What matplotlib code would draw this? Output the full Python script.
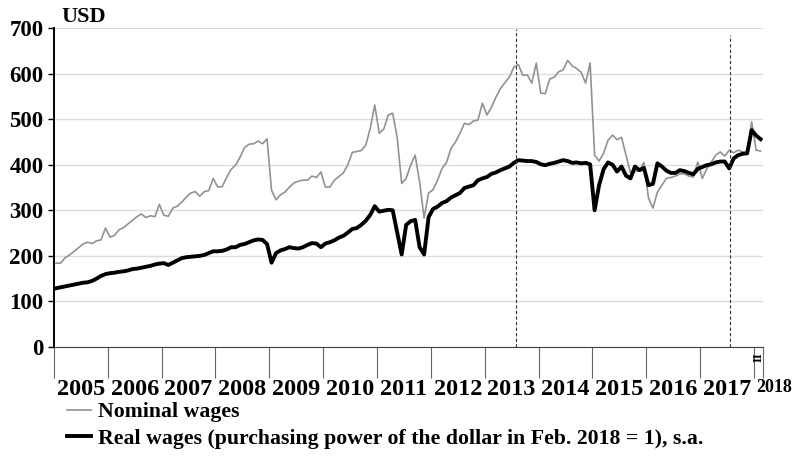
import numpy as np
import matplotlib
matplotlib.use('Agg')
import matplotlib.pyplot as plt
import matplotlib.transforms as mtransforms

# monthly data, Jan 2005 - Feb 2018, USD
nominal_wages = [
    184, 184, 196, 202, 210, 218, 226, 230, 227, 233, 235, 261,   # 2005
    241, 245, 257, 262, 270, 278, 286, 292, 284, 288, 286, 313,   # 2006
    289, 287, 305, 309, 318, 329, 338, 341, 331, 341, 343, 370,   # 2007
    351, 352, 372, 390, 399, 417, 438, 445, 446, 452, 446, 457,   # 2008
    344, 323, 334, 340, 351, 360, 364, 366, 366, 375, 372, 384,   # 2009
    351, 351, 366, 374, 382, 400, 427, 429, 431, 443, 480, 531,   # 2010
    469, 478, 509, 513, 460, 359, 370, 399, 421, 362, 283, 338,   # 2011
    345, 366, 392, 405, 436, 450, 469, 491, 488, 496, 498, 535,   # 2012
    509, 526, 548, 567, 580, 592, 614, 620, 596, 597, 579, 623,   # 2013
    557, 556, 588, 592, 604, 608, 629, 617, 611, 603, 579, 623,   # 2014
    421, 408, 425, 454, 465, 455, 460, 421, 382, 385, 387, 405,   # 2015
    327, 305, 340, 355, 370, 372, 375, 380, 380, 375, 373, 406,   # 2016
    370, 391, 406, 421, 428, 419, 432, 426, 432, 428, 426, 494,   # 2017
    432, 430,                                                     # 2018
]
real_wages = [
    129, 131, 133, 135, 137, 139, 141, 142, 145, 150, 156, 160,   # 2005
    162, 163, 165, 166, 168, 171, 172, 174, 176, 178, 181, 183,   # 2006
    184, 180, 185, 190, 195, 197, 198, 199, 200, 202, 206, 210,   # 2007
    210, 211, 214, 219, 219, 224, 226, 230, 234, 236, 235, 226,   # 2008
    185, 206, 212, 215, 219, 217, 216, 219, 224, 228, 227, 219,   # 2009
    227, 230, 234, 240, 244, 251, 259, 261, 268, 277, 290, 309,   # 2010
    297, 299, 301, 300, 252, 203, 268, 276, 279, 219, 203, 285,   # 2011
    303, 308, 316, 320, 328, 333, 338, 349, 352, 355, 366, 370,   # 2012
    373, 380, 383, 388, 392, 396, 404, 410, 409, 408, 408, 406,   # 2013
    401, 399, 402, 404, 407, 410, 408, 404, 405, 403, 404, 401,   # 2014
    300, 355, 390, 405, 400, 385, 396, 376, 370, 396, 388, 393,   # 2015
    355, 358, 403, 396, 387, 382, 382, 388, 386, 382, 379, 391,   # 2016
    395, 399, 401, 405, 407, 407, 392, 414, 421, 424, 425, 476,   # 2017
    464, 456,                                                     # 2018
]
years = list(range(2005, 2018))
event_dates = [2013.59, 2017.56]

plt.rcParams['font.family'] = ['Liberation Serif', 'DejaVu Serif']
plt.rcParams['font.weight'] = 'bold'

n = len(nominal_wages)
t = 2005 + (np.arange(n) + 0.5) / 12.0
x_end = 2018 + 2 / 12.0

fig = plt.figure(figsize=(7.93, 4.59), dpi=100)
ax = fig.add_axes([0.068, 0.244, 0.894, 0.695])

ax.set_ylim(0, 700)
ax.set_xlim(2005, x_end)
ax.set_yticks(range(0, 701, 100))
ax.yaxis.grid(True, color='#dddddd', linewidth=1)
ax.set_axisbelow(True)

ax.plot(t, nominal_wages, color='#929292', linewidth=1.2, label='Nominal wages')
ax.plot(t, real_wages, color='black', linewidth=2.8,
        label='Real wages (purchasing power of the dollar in Feb. 2018 = 1), s.a.')

ax.vlines(event_dates[0], 0, 697, colors='#333333', linestyles=(0, (3, 2)), linewidth=0.8)
ax.vlines(event_dates[1], 0, 685, colors='#333333', linestyles=(0, (3, 2)), linewidth=0.8)

for s in ['top', 'right']:
    ax.spines[s].set_visible(False)
ax.spines['left'].set_linewidth(1.4)
ax.spines['bottom'].set_color('#444444')

# year boundary ticks (long) + centered year labels
ax.set_xticks(list(years) + [2018, x_end])
ax.set_xticklabels([])
ax.tick_params(axis='x', which='major', length=22, color='#666666', width=0.8)
ax.set_xticks([y + 0.5 for y in years], minor=True)
ax.set_xticklabels([str(y) for y in years], minor=True, fontsize=17.5, fontweight='bold')
ax.tick_params(axis='x', which='minor', length=0, pad=23)
ax.tick_params(axis='y', length=4, width=1, labelsize=16.5)
for lb in ax.get_yticklabels():
    lb.set_fontweight('bold')

trans = mtransforms.blended_transform_factory(ax.transData, ax.transAxes)
ax.text(2018.37, -0.128, '2018', transform=trans, fontsize=13, fontweight='bold',
        ha='center', va='center', clip_on=False)
ax.text(2018.085, -0.033, 'II', transform=trans, fontsize=9, fontweight='bold',
        rotation=90, ha='center', va='center', clip_on=False)

ax.text(0.011, 1.019, 'USD', transform=ax.transAxes, fontsize=16, fontweight='bold',
        ha='left', va='baseline')

fig.legend(loc='upper left', bbox_to_anchor=(0.0845, 0.124), frameon=False,
           fontsize=15.7, handlelength=1.1, handletextpad=0.33, labelspacing=0.28,
           borderaxespad=0, borderpad=0)

fig.savefig('out.png', dpi=100)
